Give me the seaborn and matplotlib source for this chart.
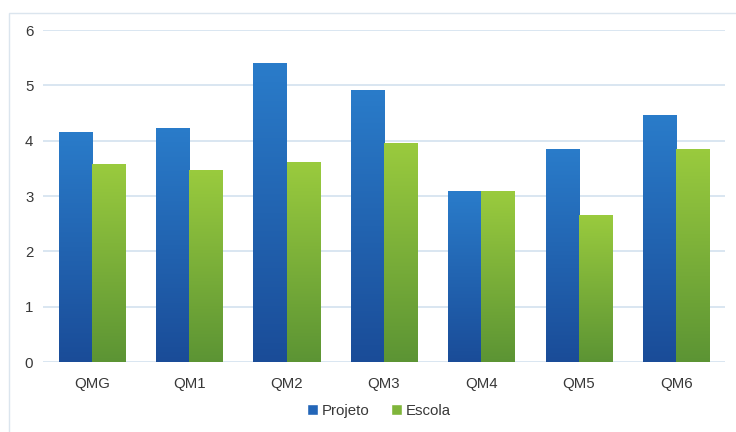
import matplotlib
matplotlib.use("Agg")
import matplotlib.pyplot as plt
import seaborn as sns
import pandas as pd
import numpy as np
from matplotlib.colors import LinearSegmentedColormap
from matplotlib.patches import Rectangle, Patch

categories = ["QMG", "QM1", "QM2", "QM3", "QM4", "QM5", "QM6"]
projeto = [4.16, 4.23, 5.40, 4.92, 3.09, 3.85, 4.46]
escola = [3.58, 3.47, 3.61, 3.96, 3.09, 2.66, 3.85]
series = ["Projeto", "Escola"]

df = pd.DataFrame({
    "cat": categories * 2,
    "val": projeto + escola,
    "serie": [series[0]] * len(categories) + [series[1]] * len(categories),
})

sns.set_theme(style="white")
plt.rcParams["font.family"] = ["Liberation Sans", "DejaVu Sans"]

fig = plt.figure(figsize=(7.36, 4.32), dpi=100)
ax = fig.add_axes([43 / 736, 70 / 432, (725 - 43) / 736, (362 - 30) / 432])

pal = {"Projeto": "#2366b8", "Escola": "#7fb53a"}
sns.barplot(data=df, x="cat", y="val", hue="serie", palette=pal, ax=ax,
            width=0.68, gap=0, legend=False, saturation=1)

grads = {
    "Projeto": LinearSegmentedColormap.from_list("b", ["#1a4c98", "#2a7cca"]),
    "Escola": LinearSegmentedColormap.from_list("g", ["#5c9434", "#9acb3e"]),
}
grad = np.linspace(0, 1, 256).reshape(-1, 1)
n = len(categories)
for i, p in enumerate(ax.patches[: 2 * n]):
    s = series[i // n]
    x0, y0 = p.get_x(), p.get_y()
    w, h = p.get_width(), p.get_height()
    p.set_facecolor("none")
    p.set_edgecolor("none")
    im = ax.imshow(grad, cmap=grads[s], aspect="auto",
                   extent=[x0, x0 + w, y0, y0 + h], origin="lower", zorder=2)
    im.set_clip_path(p)

ax.set_xlim(-0.5, n - 0.5)
ax.set_ylim(0, 6)
ax.set_yticks(range(0, 7))
ax.yaxis.grid(True, color="#d3e2ef", linewidth=1.2)
ax.set_axisbelow(True)
for sp in ax.spines.values():
    sp.set_visible(False)
ax.set_xlabel("")
ax.set_ylabel("")
ax.tick_params(axis="both", colors="#383838", labelsize=10.8, length=0)
ax.tick_params(axis="x", pad=11)
ax.tick_params(axis="y", pad=7)

# outer frame
fig.add_artist(Rectangle((9 / 736, -0.1), 1.2, (432 - 13) / 432 + 0.1,
                         transform=fig.transFigure, fill=False,
                         edgecolor="#dbe5ee", linewidth=1.0))

handles = [Patch(facecolor="#2366b8", label="Projeto"),
           Patch(facecolor="#7fb53a", label="Escola")]
fig.legend(handles=handles, loc="center", bbox_to_anchor=(379 / 736, 1 - 411 / 432),
           ncol=2, frameon=False, fontsize=10.8, handlelength=0.75, handleheight=0.75,
           handletextpad=0.25, columnspacing=1.4, labelcolor="#383838")

fig.savefig("out.png", dpi=100)
